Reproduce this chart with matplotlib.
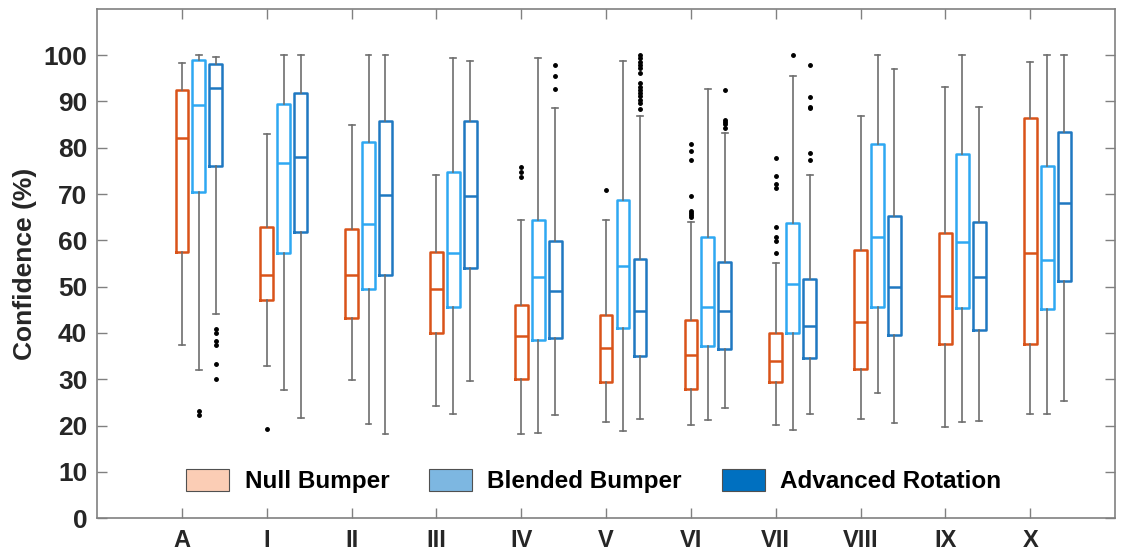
import matplotlib.pyplot as plt
from matplotlib.patches import Patch

plt.rcParams['font.family'] = ['Liberation Sans', 'DejaVu Sans']

groups = ['A', 'I', 'II', 'III', 'IV', 'V', 'VI', 'VII', 'VIII', 'IX', 'X']
series = ['Null Bumper', 'Blended Bumper', 'Advanced Rotation']

# five-number summaries per group: [whisker low, Q1, median, Q3, whisker high]
null_stats = [
    [37.4, 57.4, 82.2, 92.5, 98.4],
    [32.8, 47.2, 52.5, 63.0, 83.0],
    [29.8, 43.2, 52.5, 62.4, 84.9],
    [24.3, 40.0, 49.5, 57.6, 74.1],
    [18.1, 30.1, 39.4, 46.1, 64.5],
    [20.7, 29.4, 36.8, 43.9, 64.5],
    [20.2, 27.8, 35.3, 42.7, 63.9],
    [20.2, 29.4, 33.9, 40.0, 55.1],
    [21.4, 32.2, 42.3, 58.0, 86.9],
    [19.6, 37.7, 47.9, 61.7, 93.1],
    [22.4, 37.7, 57.2, 86.5, 98.6],
]
blended_stats = [
    [31.9, 70.4, 89.3, 99.0, 100.0],
    [27.6, 57.3, 76.7, 89.4, 100.0],
    [20.4, 49.6, 63.5, 81.3, 100.0],
    [22.4, 45.6, 57.3, 74.7, 99.4],
    [18.5, 38.5, 52.0, 64.3, 99.3],
    [18.8, 41.0, 54.4, 68.8, 98.8],
    [21.2, 37.1, 45.7, 60.7, 92.7],
    [19.1, 40.0, 50.6, 63.8, 95.6],
    [27.0, 45.7, 60.7, 80.8, 100.0],
    [20.7, 45.5, 59.7, 78.6, 100.0],
    [22.4, 45.2, 55.8, 76.0, 100.0],
]
advanced_stats = [
    [44.0, 76.0, 92.9, 98.1, 99.7],
    [21.6, 61.8, 78.1, 91.9, 100.0],
    [18.1, 52.6, 69.8, 85.8, 100.0],
    [29.6, 54.1, 69.6, 85.7, 98.8],
    [22.2, 39.0, 49.0, 59.9, 88.7],
    [21.5, 35.0, 44.7, 56.0, 86.8],
    [23.7, 36.6, 44.7, 55.3, 83.2],
    [22.6, 34.6, 41.6, 51.7, 74.2],
    [20.6, 39.6, 49.9, 65.2, 97.0],
    [20.9, 40.6, 52.2, 63.9, 88.8],
    [25.3, 51.2, 68.1, 83.5, 100.0],
]

null_fliers = [[], [19.3], [], [], [75.8, 74.8, 73.7], [70.9],
               [80.8, 79.2, 77.3, 69.6, 66.4, 65.9, 65.4, 65.0],
               [77.9, 73.9, 72.2, 71.4, 62.8, 60.7, 59.8, 57.3], [], [], []]
blended_fliers = [[23.1, 22.2], [], [], [], [], [], [], [100.0], [], [], []]
advanced_fliers = [[40.9, 40.1, 38.3, 37.3, 33.4, 30.1], [], [], [],
                   [97.8, 95.4, 92.7],
                   [100, 99.4, 98.6, 97.9, 97.2, 96.1, 94.0, 93.2, 92.5,
                    91.8, 91.1, 90.4, 89.6, 88.3],
                   [92.4, 86.0, 85.5, 85.1, 84.2],
                   [97.8, 90.9, 88.9, 88.6, 78.8, 77.4], [], [], []]

edge_colors = ['#D95319', '#2EA8F2', '#1F78C1']
legend_colors = ['#FBCDB5', '#7DB7E1', '#0070C0']

fig, ax = plt.subplots(figsize=(11.22, 5.56), dpi=100)
fig.subplots_adjust(left=0.0865, right=0.9938, bottom=0.068, top=0.984)

all_stats = [null_stats, blended_stats, advanced_stats]
all_fliers = [null_fliers, blended_fliers, advanced_fliers]
offsets = [0.0, 0.2, 0.4]

for s in range(3):
    bxp_data = []
    for i in range(len(groups)):
        lo, q1, med, q3, hi = all_stats[s][i]
        bxp_data.append({'whislo': lo, 'q1': q1, 'med': med, 'q3': q3,
                         'whishi': hi, 'fliers': all_fliers[s][i]})
    pos = [i + 1 + offsets[s] for i in range(len(groups))]
    col = edge_colors[s]
    ax.bxp(bxp_data, positions=pos, widths=0.15, capwidths=0.07,
           showfliers=True, manage_ticks=False,
           boxprops=dict(color=col, linewidth=1.8),
           medianprops=dict(color=col, linewidth=1.8),
           whiskerprops=dict(color='#6e6e6e', linewidth=1.2),
           capprops=dict(color='#6e6e6e', linewidth=1.2),
           flierprops=dict(marker='o', markerfacecolor='black',
                           markeredgecolor='black', markersize=2.5))

ax.set_xlim(0, 12)
ax.set_ylim(0, 110)
ax.set_xticks(range(1, len(groups) + 1))
ax.set_xticklabels(groups)
ax.set_yticks(range(0, 101, 10))
ax.tick_params(direction='in', length=7, width=1, color='#808080',
               top=True, right=True, labelcolor='#262626')
ax.tick_params(axis='x', pad=8, labelsize=17)
ax.tick_params(axis='y', pad=7, labelsize=19)
for lab in ax.get_xticklabels() + ax.get_yticklabels():
    lab.set_fontweight('bold')
for sp in ax.spines.values():
    sp.set_color('#808080')
    sp.set_linewidth(1.2)

ax.set_ylabel('Confidence (%)', fontsize=19, fontweight='bold',
              color='#262626', labelpad=5)

handles = [Patch(facecolor=legend_colors[k], edgecolor='#505050',
                 linewidth=0.8, label=series[k]) for k in range(3)]
ax.legend(handles=handles, loc='center', bbox_to_anchor=(0.488, 0.0735),
          ncol=3, frameon=False, handlelength=1.77, handleheight=1.03,
          handletextpad=0.62, columnspacing=1.65,
          prop={'size': 17.5, 'weight': 'bold'})

fig.savefig('out.png', dpi=100)
